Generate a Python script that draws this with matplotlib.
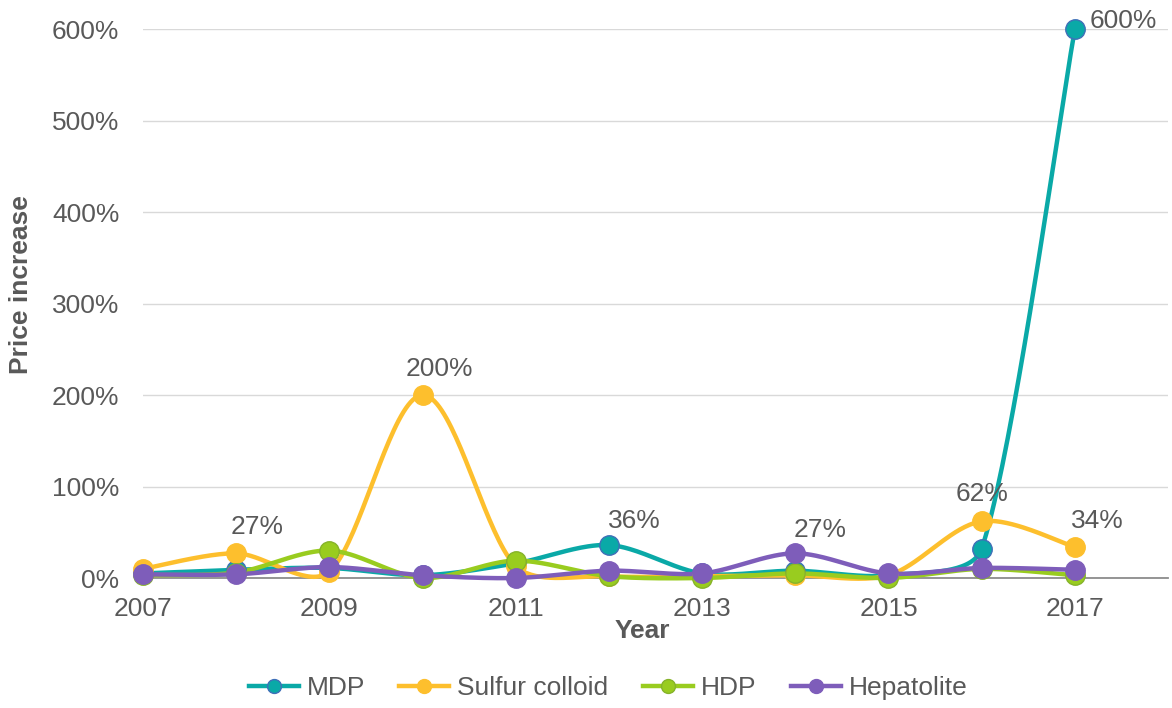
import numpy as np
import matplotlib
matplotlib.use("Agg")
from matplotlib import pyplot as plt

years = [2007, 2008, 2009, 2010, 2011, 2012, 2013, 2014, 2015, 2016, 2017]
mdp = [5, 9, 11, 3, 16, 36, 5, 8, 3, 32, 600]
sulfur_colloid = [10, 27, 7, 200, 13, 2, 2, 3, 3, 62, 34]
hdp = [3, 6, 30, 0, 19, 2, 0, 5, 0, 10, 3]
hepatolite = [4, 4, 12, 3, 0, 8, 5, 27, 5, 11, 9]

series = [
    ("MDP", mdp, "#0AA9A7", "#3F6FB8"),
    ("Sulfur colloid", sulfur_colloid, "#FDBF2D", "#FDBF2D"),
    ("HDP", hdp, "#99CC1F", "#86B32A"),
    ("Hepatolite", hepatolite, "#7E5DBA", "#7E5DBA"),
]

# (series index, point index, label, dx, dy) offsets in points
labels = [
    (1, 1, "27%", 15, 19),
    (1, 3, "200%", 12, 19),
    (0, 5, "36%", 18, 17),
    (3, 7, "27%", 18, 17),
    (1, 9, "62%", 0, 20),
    (1, 10, "34%", 16, 19),
    (0, 10, "600%", 35, 6),
]


def smooth(ax, x, y, k=0.3, n=40):
    # excel-like smoothing: catmull-rom handles in screen space,
    # capped so steep jumps do not overshoot
    pts = ax.transData.transform(np.column_stack([x, y]))
    m = len(pts)
    tang = []
    for i in range(m):
        d = pts[min(i + 1, m - 1)] - pts[max(i - 1, 0)]
        tang.append(d)
    t = np.linspace(0, 1, n)[:, None]
    out = []
    for i in range(m - 1):
        p0, p3 = pts[i], pts[i + 1]
        L = np.hypot(*(p3 - p0))
        h1 = tang[i] / 6
        h2 = tang[i + 1] / 6
        if np.hypot(*h1) > L * k:
            h1 = h1 / np.hypot(*h1) * L * k
        if np.hypot(*h2) > L * k:
            h2 = h2 / np.hypot(*h2) * L * k
        c1 = p0 + h1
        c2 = p3 - h2
        b = (1 - t) ** 3 * p0 + 3 * (1 - t) ** 2 * t * c1 + 3 * (1 - t) * t ** 2 * c2 + t ** 3 * p3
        out.append(b)
    out = ax.transData.inverted().transform(np.vstack(out))
    return out[:, 0], out[:, 1]


plt.rcParams['font.family'] = ['Liberation Sans', 'DejaVu Sans']
grey = "#595959"
fs = 19

fig = plt.figure(figsize=(11.72, 7.08), dpi=100)
ax = fig.add_axes([0.122, 0.1836, 0.8746, 0.775])
ax.set_xlim(2007, 2018)
ax.set_ylim(0, 600)

for name, vals, color, edge in series:
    sx, sy = smooth(ax, years, vals)
    ax.plot(sx, sy, color=color, lw=3.2, solid_capstyle='round', clip_on=False, zorder=3)
    ax.plot(years, vals, 'o', color=color, mec=edge, mew=1, ms=14, clip_on=False, zorder=4)
    ax.plot([], [], color=color, lw=3.2, marker='o', ms=10, mec=edge, label=name)

for si, pi, text, dx, dy in labels:
    ax.annotate(text, (years[pi], series[si][1][pi]), xytext=(dx, dy),
                textcoords='offset points', ha='center', va='center',
                fontsize=fs, color=grey, zorder=5)

ax.set_xticks(years[::2])
ax.set_yticks(range(0, 601, 100))
ax.set_yticklabels([f"{v}%" for v in range(0, 601, 100)])
ax.tick_params(axis='y', length=0, labelsize=fs, colors=grey, pad=17)
ax.tick_params(axis='x', length=0, labelsize=fs, colors=grey, pad=14)
ax.grid(axis='y', color='#D9D9D9', lw=1)
ax.set_axisbelow(True)
for s in ['top', 'right', 'left']:
    ax.spines[s].set_visible(False)
ax.spines['bottom'].set_color('#8C8C8C')
ax.spines['bottom'].set_linewidth(1.3)

fig.text(642 / 1172, 1 - 631 / 708, "Year", fontsize=fs, fontweight='bold',
         color=grey, ha='center', va='center')
fig.text(21 / 1172, 1 - 285 / 708, "Price increase", fontsize=fs, fontweight='bold',
         color=grey, ha='center', va='center', rotation=90)

fig.legend(loc='center', bbox_to_anchor=(608 / 1172, 1 - 688 / 708), ncol=4, frameon=False,
           fontsize=fs, labelcolor=grey, handlelength=1.9, handletextpad=0.3,
           columnspacing=1.3)

fig.savefig("out.png", dpi=100)
plt.close(fig)
